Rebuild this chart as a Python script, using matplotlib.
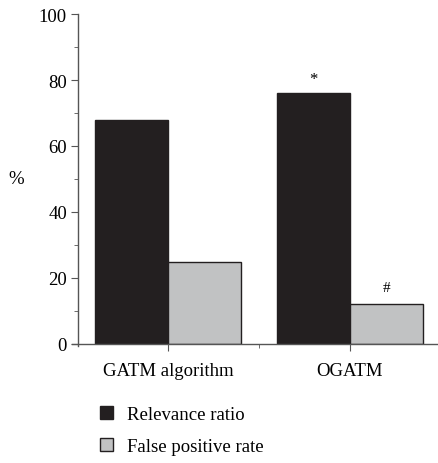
import matplotlib
matplotlib.use("Agg")
import matplotlib.pyplot as plt
import numpy as np
from matplotlib.ticker import MultipleLocator

plt.rcParams["font.family"] = ["Liberation Serif", "DejaVu Serif"]

methods = ["GATM algorithm", "OGATM"]
relevance_ratio = [68, 76]
false_positive_rate = [25, 12]
series_names = ["Relevance ratio", "False positive rate"]

W, H = 439, 464
fig = plt.figure(figsize=(W / 100, H / 100), dpi=100)
ax = fig.add_axes([78 / W, 119 / H, (W - 78) / W, 330 / H])

x = np.arange(len(methods))
width = 0.4
dark = "#231f20"
light = "#c1c2c3"
fs = 13.5
b1 = ax.bar(x - width / 2, relevance_ratio, width, color=dark, edgecolor=dark,
            linewidth=1, label=series_names[0])
b2 = ax.bar(x + width / 2, false_positive_rate, width, color=light, edgecolor=dark,
            linewidth=1, label=series_names[1])

# significance markers for OGATM
ax.text(x[1] - width / 2, relevance_ratio[1] + 2, "*", ha="center", va="bottom", fontsize=12)
ax.text(x[1] + width / 2, false_positive_rate[1] + 3, "#", ha="center", va="bottom", fontsize=11)

ax.set_xlim(-0.495, 1.49)
ax.set_ylim(0, 100)
ax.set_xticks(x)
ax.set_xticklabels(methods, fontsize=fs)
ax.xaxis.set_minor_locator(MultipleLocator(0.5))
ax.yaxis.set_major_locator(MultipleLocator(20))
ax.yaxis.set_minor_locator(MultipleLocator(10))

spine_c = "#555555"
for s in ["top", "right"]:
    ax.spines[s].set_visible(False)
for s in ["left", "bottom"]:
    ax.spines[s].set_color(spine_c)
    ax.spines[s].set_linewidth(1.0)
ax.spines["bottom"].set_bounds(-0.53, 1.49)
ax.spines["left"].set_bounds(-0.6, 100)

ax.tick_params(axis="y", which="major", length=5, color=spine_c, labelsize=fs, pad=3)
ax.tick_params(axis="y", which="minor", length=3, color=spine_c)
ax.tick_params(axis="x", which="major", length=5, color=spine_c, pad=8)
ax.tick_params(axis="x", which="minor", length=3, color=spine_c)

ax.set_ylabel("%", rotation=0, fontsize=fs, labelpad=16, va="center")

fig.legend(handles=[b1, b2], labels=series_names, loc="upper left",
           bbox_to_anchor=(83 / W, 1 - 390 / H), frameon=False, fontsize=fs,
           handlelength=0.7, handleheight=0.7, handletextpad=0.75, labelspacing=0.8)

fig.savefig("out.png", dpi=100)
